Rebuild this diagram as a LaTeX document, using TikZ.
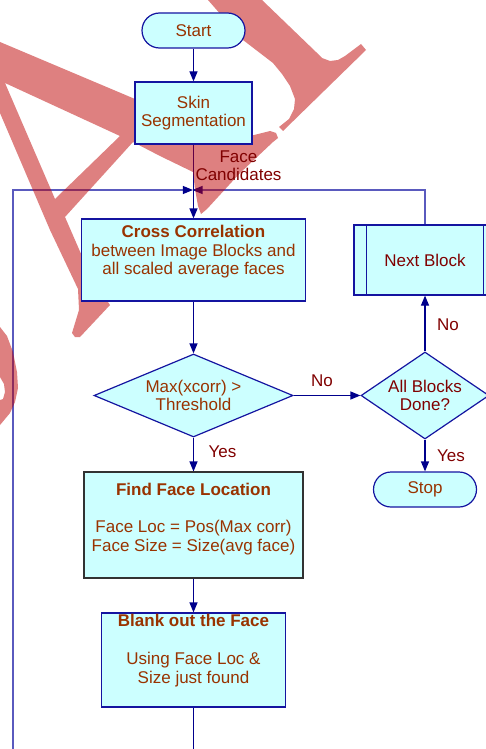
\documentclass[tikz,border=0pt]{standalone}
\usepackage{fontspec}
\setmainfont{Liberation Sans}
\usetikzlibrary{arrows.meta,shapes.geometric}
\definecolor{boxfill}{RGB}{204,255,255}
\definecolor{boxline}{RGB}{20,20,160}
\definecolor{navy}{RGB}{0,0,140}
\definecolor{loopc}{RGB}{90,90,190}
\definecolor{txtbrown}{RGB}{153,51,0}
\definecolor{txtmaroon}{RGB}{128,0,0}
\definecolor{wmred}{RGB}{190,1,1}
\definecolor{findline}{RGB}{50,50,50}
\pgfdeclarelayer{bg}
\pgfdeclarelayer{wm}
\pgfsetlayers{bg,wm,main}
\begin{document}
\begin{tikzpicture}[x=1pt,y=-1pt,
  every node/.style={font=\fontsize{17pt}{18.7pt}\selectfont, inner sep=0pt},
  proc/.style={draw=boxline, fill=boxfill, line width=1.2pt, rectangle},
  term/.style={proc, rounded corners=17.5pt, minimum width=103pt, minimum height=35pt, text=txtbrown},
  decis/.style={draw=boxline, fill=boxfill, line width=1.2pt, diamond, align=center, inner sep=-14pt},
  conn/.style={draw=navy, line width=1.2pt},
  arr/.style={conn, -{Triangle[length=10pt,width=8pt]}},
  loopconn/.style={draw=loopc, line width=1.2pt},
  looparr/.style={loopconn, -{Triangle[length=10pt,width=8pt,color=navy]}},
  lbl/.style={text=txtmaroon},
  wmfill/.style={fill=wmred, fill opacity=0.5}
  ]
\useasboundingbox (0,0) rectangle (485,749);

% nodes
\node[term] (start) at (193.5,30.5) {Start};
\node[proc, minimum width=117pt, minimum height=62pt, align=center, text=txtbrown] (skin) at (193.5,113) {Skin\\Segmentation};
\node[proc, minimum width=224pt, minimum height=82pt] (cross) at (193.5,260) {};
\node[anchor=north, align=center, text=txtbrown] (crosstxt) at (193.5,225) {\textbf{Cross Correlation}\\between Image Blocks and\\all scaled average faces};
\node[decis, minimum width=199pt, minimum height=83pt, text=txtbrown] (d1) at (193.5,395.5) {Max(xcorr) >\\Threshold};
\node[decis, minimum width=128pt, minimum height=87pt, text=txtmaroon] (d2) at (425,395.5) {All Blocks\\Done?};
\node[proc, minimum width=142pt, minimum height=70pt, text=txtmaroon] (nb) at (425,260) {Next Block};
\draw[boxline, line width=1.2pt] ([xshift=13pt]nb.north west) -- ([xshift=13pt]nb.south west);
\draw[boxline, line width=1.2pt] ([xshift=-13pt]nb.north east) -- ([xshift=-13pt]nb.south east);
\node[term] (stop) at (425,489.5) {Stop};
\node[proc, draw=findline, line width=1.1pt, minimum width=219pt, minimum height=106pt] (find) at (193.5,525) {};
\node[anchor=north, align=center, text=txtbrown] (findtxt) at (193.5,483) {\textbf{Find Face Location}\\[18.7pt]Face Loc = Pos(Max corr)\\Face Size = Size(avg face)};
\node[proc, minimum width=184pt, minimum height=94pt] (blank) at (193.5,660) {};
\node[anchor=north, align=center, text=txtbrown] (blanktxt) at (193.5,614.4) {\textbf{Blank out the Face}\\[19pt]Using Face Loc \&\\Size just found};

% labels
\node[lbl, anchor=north, align=center] (fc) at (238.5,150.3) {Face\\Candidates};
\node[lbl, anchor=base] (no1) at (322,386.7) {No};
\node[lbl, anchor=base] (no2) at (448,330) {No};
\node[lbl, anchor=base] (yes1) at (222.5,457.3) {Yes};
\node[lbl, anchor=base] (yes2) at (451,461.7) {Yes};

\coordinate (junction) at (193.5,190);
\coordinate (leftend) at (13,760);
\coordinate (bottomend) at (193.5,760);

% connectors
\begin{pgfonlayer}{bg}
\draw[arr] (start) -- (skin);
\draw[arr] (skin) -- (cross);
\draw[arr] (cross) -- (d1);
\draw[arr] (d1) -- (find);
\draw[arr] (d1) -- (d2);
\draw[arr] (d2) -- (nb);
\draw[arr] (d2) -- (stop);
\draw[arr] (find) -- (blank);
\draw[conn] (blank) -- (bottomend);
\draw[looparr, shorten >=0.6pt] (leftend) |- (junction);
\draw[looparr, shorten >=-1pt] (nb) |- (junction);
\end{pgfonlayer}

% watermark
\begin{pgfonlayer}{wm}
\fill[wmfill, even odd rule]
  (0,42) -- (135,99) -- (200,125) -- (250,136) -- (262,133) -- (270,131) -- (276,133) -- (278,138)
  -- (273,142) -- (240,173) -- (207,209) -- (201,214) -- (198,206) -- (195,189) -- (193,172)
  -- (160,156) -- (133,142) -- (65,217) -- (85,263) -- (100,290) -- (110,305) -- (80,337)
  -- (75,337) -- (72,333) -- (79,310) -- (78,289) -- (50,230) -- (0,113) -- cycle
  (5,83) -- (120,136) -- (55,199) -- cycle;
\fill[wmfill]
  (208,0) -- (262,0) -- (316,52) -- (322,58) -- (330,61) -- (338,60) -- (345,56) -- (361,44)
  -- (366,50) -- (283,131) -- (279,127) -- (289,119) -- (294,109) -- (295,99) -- (290,86)
  -- (282,74) -- (273,63) -- (243,40) -- cycle;
\fill[wmfill]
  (0,327) -- (7,336) -- (13,352) -- (17,372) -- (18,388) -- (15,402) -- (10,413) -- (0,425)
  -- (0,400) -- (3,399) -- (5,392) -- (4,384) -- (0,377) -- cycle;
\end{pgfonlayer}
\end{tikzpicture}
\end{document}
